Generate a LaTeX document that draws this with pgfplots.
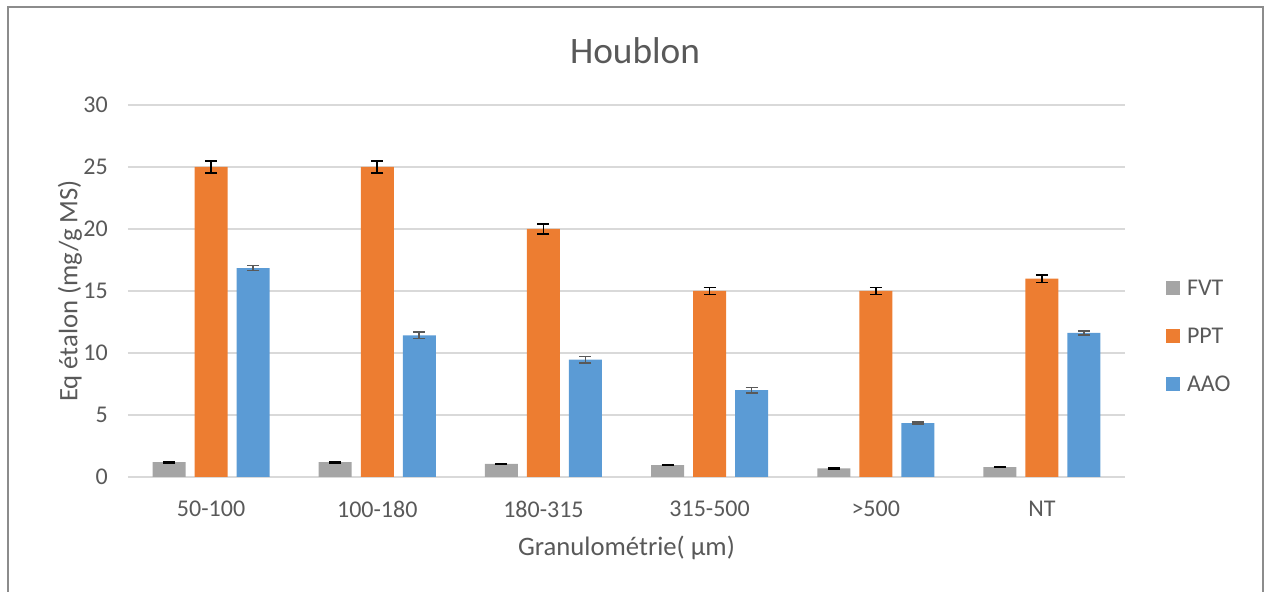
\documentclass[border=0pt]{standalone}
\usepackage{fontspec}
\setmainfont{Carlito}
\usepackage{pgfplots}
\usepackage{pgfplotstable}
\pgfplotsset{compat=1.18}
\definecolor{cgray}{HTML}{A5A5A5}
\definecolor{corange}{HTML}{ED7D31}
\definecolor{cblue}{HTML}{5B9BD5}
\definecolor{gridc}{HTML}{D9D9D9}
\definecolor{txt}{HTML}{595959}
\definecolor{framec}{HTML}{8C8C8C}
\definecolor{errc}{HTML}{595959}
\pgfplotstableread{
x FVT FVTe PPT PPTe AAO AAOe
0 1.20 0.05 25 0.50 16.85 0.20
1 1.19 0.04 25 0.50 11.43 0.25
2 1.05 0.04 20 0.42 9.46 0.25
3 0.95 0.03 15 0.27 7.00 0.22
4 0.69 0.03 15 0.27 4.35 0.10
5 0.80 0.04 16 0.30 11.62 0.17
}\data
\begin{document}
\begin{tikzpicture}[x=0.75pt,y=0.75pt]
\path[use as bounding box] (0,0) rectangle (1265,592);
\draw[framec, line width=1.5pt] (8,-10) -- (8,585) -- (1263,585) -- (1263,-10);
\begin{axis}[
  at={(96pt,86.25pt)}, anchor=south west,
  scale only axis, width=747.75pt, height=279pt,
  xmin=-0.5, xmax=5.5, ymin=0, ymax=30,
  ytick={0,5,...,30},
  xtick={0,...,5},
  xticklabels={50-100,100-180,180-315,315-500,{>500},NT},
  major tick length=0pt,
  ymajorgrids,
  grid style={gridc, line width=1pt},
  axis x line*=bottom, axis y line*=left,
  x axis line style={gridc, line width=1pt, -},
  y axis line style={draw=none},
  /pgf/number format/assume math mode=true,
  ticklabel style={font=\fontsize{18}{22}\selectfont, text=txt},
  yticklabel style={anchor=east, inner sep=0pt, xshift=-15pt},
  xticklabel style={anchor=north, inner sep=0pt, yshift=-18pt},
  ybar=6.75pt, bar width=24.75pt,
  title={Houblon},
  title style={at={(axis description cs:0.5,1)}, anchor=center, yshift=34.5pt, xshift=6.4pt, font=\fontsize{28}{32}\selectfont, text=txt},
  xlabel={Granulométrie( µm)},
  xlabel style={at={(axis description cs:0.5,0)}, anchor=center, yshift=-53.25pt, font=\fontsize{20}{24}\selectfont, text=txt},
  ylabel={Eq étalon (mg/g MS)},
  ylabel style={at={(axis description cs:0,0.5)}, anchor=center, yshift=43.5pt, font=\fontsize{20}{24}\selectfont, text=txt},
  legend style={at={(rel axis cs:1,0.379)}, anchor=west, xshift=30.75pt,
    draw=none, fill=none, inner sep=0pt, outer sep=0pt,
    font=\fontsize{18}{22}\selectfont, text=txt,
    nodes={inner sep=0pt, text height=11pt, text depth=0pt},
    row sep=25pt, column sep=5.25pt},
  legend cell align=left,
  legend image code/.code={\fill[#1] (0pt,-5.25pt) rectangle (10.5pt,5.25pt);},
  error bars/y dir=both, error bars/y explicit,
]
\addplot[fill=cgray, draw=none, error bars/error bar style={black, line width=1.2pt}, error bars/error mark options={rotate=90, black, mark size=4.5pt, line width=1.2pt}]
  table[x=x, y=FVT, y error=FVTe] {\data};
\addplot[fill=corange, draw=none, error bars/error bar style={black, line width=1.2pt}, error bars/error mark options={rotate=90, black, mark size=4.5pt, line width=1.2pt}]
  table[x=x, y=PPT, y error=PPTe] {\data};
\addplot[fill=cblue, draw=none, error bars/error bar style={errc, line width=1.2pt}, error bars/error mark options={rotate=90, errc, mark size=4.5pt, line width=1.2pt}]
  table[x=x, y=AAO, y error=AAOe] {\data};
\legend{FVT,PPT,AAO}
\end{axis}
\end{tikzpicture}
\end{document}
